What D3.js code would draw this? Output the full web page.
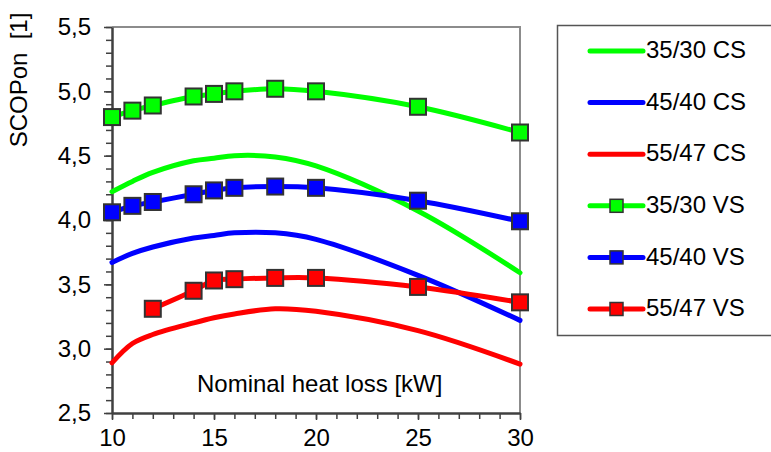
<!DOCTYPE html>
<html>
<head>
<meta charset="utf-8">
<script src="https://d3js.org/d3.v7.min.js"></script>
<style>
  body { margin: 0; background: #fff; }
  text { font-family: "Liberation Sans", Arial, sans-serif; fill: #000; }
</style>
</head>
<body>
<div id="chart"></div>
<script>
// Chart data
var xAll = [10, 11, 12, 14, 15, 16, 18, 20, 25, 30];
var x5547VS = [12, 14, 15, 16, 18, 20, 25, 30];

var cs3530 = [4.22, 4.30, 4.37, 4.46, 4.48, 4.50, 4.49, 4.42, 4.07, 3.59];
var cs4540 = [3.67, 3.74, 3.79, 3.86, 3.88, 3.90, 3.90, 3.85, 3.57, 3.22];
var cs5547 = [2.89, 3.04, 3.11, 3.20, 3.24, 3.27, 3.31, 3.29, 3.14, 2.88];

var vs3530 = [4.80, 4.85, 4.89, 4.96, 4.98, 5.00, 5.02, 5.00, 4.88, 4.68];
var vs4540 = [4.06, 4.11, 4.14, 4.20, 4.23, 4.25, 4.26, 4.25, 4.15, 3.99];
var vs5547 = [3.31, 3.45, 3.53, 3.54, 3.55, 3.55, 3.48, 3.36];

var xTicks = [10, 15, 20, 25, 30];
var yTicks = [2.5, 3.0, 3.5, 4.0, 4.5, 5.0, 5.5];

var seriesNames = ["35/30 CS", "45/40 CS", "55/47 CS", "35/30 VS", "45/40 VS", "55/47 VS"];
var seriesColors = ["#00ff00", "#0000ff", "#ff0000", "#00ff00", "#0000ff", "#ff0000"];

var svgWidth = 771;
var svgHeight = 452;
var margin = { top: 27, right: 251, bottom: 39, left: 112 };
var width = svgWidth - margin.left - margin.right;
var height = svgHeight - margin.top - margin.bottom;
var fontSize = "24px";

var svg = d3.select("#chart")
  .append("svg")
  .attr("width", svgWidth)
  .attr("height", svgHeight);

var chartGroup = svg.append("g")
  .attr("transform", `translate(${margin.left}, ${margin.top})`);

// Scales
var xScale = d3.scaleLinear().domain([10, 30]).range([0, width]);
var yScale = d3.scaleLinear().domain([2.5, 5.5]).range([height, 0]);

var commaFmt = function (d) { return d3.format(".1f")(d).replace(".", ","); };

// Frame: top and right in grey
chartGroup.append("path")
  .attr("d", `M0,0H${width}V${height}`)
  .attr("fill", "none")
  .attr("stroke", "#8c8c8c")
  .attr("stroke-width", 2);

// Minor ticks
chartGroup.append("g")
  .attr("transform", `translate(0, ${height})`)
  .call(d3.axisBottom(xScale).tickValues(d3.range(10, 31, 1)).tickSize(6).tickFormat(""))
  .call(g => g.select(".domain").remove())
  .selectAll("line").attr("stroke", "#404040").attr("stroke-width", 1.5);

chartGroup.append("g")
  .call(d3.axisLeft(yScale).tickValues(d3.range(25, 56, 1).map(v => v / 10)).tickSize(6).tickFormat(""))
  .call(g => g.select(".domain").remove())
  .selectAll("line").attr("stroke", "#404040").attr("stroke-width", 1.5);

// Major axes
var bottomAxis = chartGroup.append("g")
  .attr("transform", `translate(0, ${height})`)
  .call(d3.axisBottom(xScale).tickValues(xTicks).tickSize(7).tickSizeOuter(0).tickPadding(9));

var leftAxis = chartGroup.append("g")
  .call(d3.axisLeft(yScale).tickValues(yTicks).tickSize(8).tickSizeOuter(0).tickPadding(13).tickFormat(commaFmt));

[bottomAxis, leftAxis].forEach(function (ax) {
  ax.select(".domain").attr("stroke", "#404040").attr("stroke-width", 2.5);
  ax.selectAll(".tick line").attr("stroke", "#404040").attr("stroke-width", 1.5);
  ax.selectAll(".tick text")
    .attr("font-size", fontSize)
    .attr("font-family", "Liberation Sans, Arial, sans-serif")
    .attr("fill", "#000");
});

// Lines
var line = d3.line()
  .x(d => xScale(d[0]))
  .y(d => yScale(d[1]))
  .curve(d3.curveCatmullRom.alpha(0.5));

var csData = [cs3530, cs4540, cs5547].map(arr => xAll.map((x, i) => [x, arr[i]]));
var vsData = [
  xAll.map((x, i) => [x, vs3530[i]]),
  xAll.map((x, i) => [x, vs4540[i]]),
  x5547VS.map((x, i) => [x, vs5547[i]])
];

csData.forEach(function (pts, i) {
  chartGroup.append("path")
    .datum(pts)
    .attr("d", line)
    .attr("fill", "none")
    .attr("stroke", seriesColors[i])
    .attr("stroke-width", 5)
    .attr("stroke-linecap", "round");
});

var markerSize = 16;
vsData.forEach(function (pts, i) {
  chartGroup.append("path")
    .datum(pts)
    .attr("d", line)
    .attr("fill", "none")
    .attr("stroke", seriesColors[i + 3])
    .attr("stroke-width", 5)
    .attr("stroke-linecap", "round");

  chartGroup.selectAll(".mk" + i)
    .data(pts)
    .enter()
    .append("rect")
    .attr("class", "mk" + i)
    .attr("x", d => xScale(d[0]) - markerSize / 2)
    .attr("y", d => yScale(d[1]) - markerSize / 2)
    .attr("width", markerSize)
    .attr("height", markerSize)
    .attr("fill", seriesColors[i + 3])
    .attr("stroke", "#333")
    .attr("stroke-width", 2);
});

// Axis titles
chartGroup.append("text")
  .attr("x", 85)
  .attr("y", 365)
  .attr("font-size", fontSize)
  .text("Nominal heat loss [kW]");

svg.append("text")
  .attr("transform", "translate(27, 80) rotate(-90)")
  .attr("text-anchor", "middle")
  .attr("font-size", fontSize)
  .style("white-space", "pre")
  .text("SCOPon  [1]");

// Legend
var legend = svg.append("g");
legend.append("path")
  .attr("d", "M780,25.5H557.5V335.5H780")
  .attr("fill", "none")
  .attr("stroke", "#555")
  .attr("stroke-width", 1.5);

seriesNames.forEach(function (name, i) {
  var ly = 51 + i * 51.6;
  legend.append("line")
    .attr("x1", 590).attr("x2", 643)
    .attr("y1", ly).attr("y2", ly)
    .attr("stroke", seriesColors[i])
    .attr("stroke-width", 5)
    .attr("stroke-linecap", "round");
  if (i >= 3) {
    legend.append("rect")
      .attr("x", 610).attr("y", ly - 6.5)
      .attr("width", 13).attr("height", 13)
      .attr("fill", seriesColors[i])
      .attr("stroke", "#333")
      .attr("stroke-width", 1.5);
  }
  legend.append("text")
    .attr("x", 646)
    .attr("y", ly)
    .attr("dy", "0.3em")
    .attr("font-size", fontSize)
    .text(name);
});
</script>
</body>
</html>
